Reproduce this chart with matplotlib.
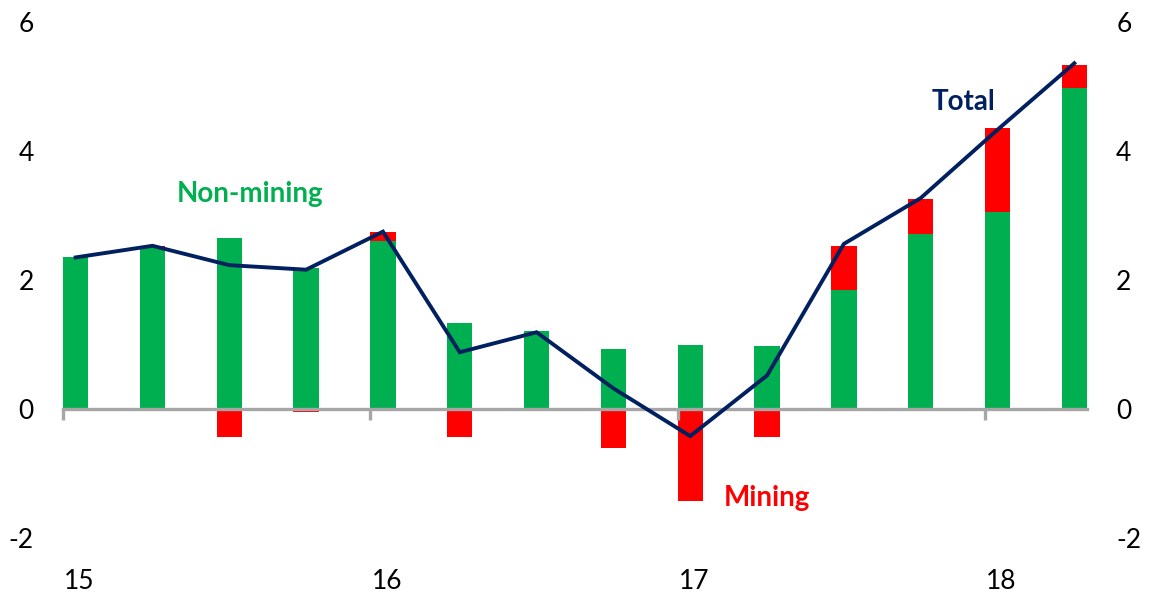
import matplotlib
matplotlib.use("Agg")
import matplotlib.pyplot as plt
import numpy as np

quarters = ["Mar-15", "Jun-15", "Sep-15", "Dec-15", "Mar-16", "Jun-16", "Sep-16",
            "Dec-16", "Mar-17", "Jun-17", "Sep-17", "Dec-17", "Mar-18", "Jun-18"]
non_mining = [2.35, 2.51, 2.65, 2.18, 2.61, 1.33, 1.21, 0.93, 0.99, 0.98, 1.85, 2.72, 3.05, 4.97]
mining = [0.01, 0.02, -0.43, -0.05, 0.14, -0.44, -0.03, -0.60, -1.43, -0.44, 0.67, 0.53, 1.30, 0.37]
total = [2.35, 2.53, 2.23, 2.16, 2.75, 0.88, 1.19, 0.32, -0.42, 0.52, 2.56, 3.27, 4.33, 5.36]
year_labels = ["15", "16", "17", "18"]
year_index = [0, 4, 8, 12]
y_ticks = [-2, 0, 2, 4, 6]

GREEN = "#00B050"
RED = "#FF0000"
NAVY = "#002060"
GRAY = "#A6A6A6"
FONT = "Lato"

fig = plt.figure(figsize=(11.49, 5.97), dpi=100)
ax = fig.add_axes([63/1149, 59/597, (1087-63)/1149, (538-22)/597])

x = np.arange(len(quarters))
w = 0.33
nm = np.array(non_mining)
mi = np.array(mining)
mining_bottom = np.where(mi > 0, nm, 0)

ax.bar(x, nm, width=w, color=GREEN, zorder=1)
ax.bar(x, mi, width=w, bottom=mining_bottom, color=RED, zorder=1)
ax.plot(x, total, color=NAVY, lw=2.8, zorder=4, solid_joinstyle="miter")

ax.set_xlim(-w/2, len(x) - 1 + w/2)
ax.set_ylim(-2, 6)
ax.set_yticks(y_ticks)
ax.set_yticklabels([str(v) for v in y_ticks])
ax.tick_params(axis="y", length=0, pad=21, labelsize=19, labelleft=True, labelright=True)
for lab in ax.get_yticklabels():
    lab.set_fontfamily(FONT)

ax.set_xticks([i + 0.05 for i in year_index])
ax.set_xticklabels(year_labels, fontsize=19, fontfamily=FONT)
ax.tick_params(axis="x", length=0, pad=22)
for s in ax.spines.values():
    s.set_visible(False)

# zero-line axis with tick marks
sec = ax.secondary_xaxis(0.25)
sec.set_zorder(2)
sec.spines["bottom"].set_color(GRAY)
sec.spines["bottom"].set_linewidth(2.4)
sec.set_xticks([i - w/2 for i in year_index])
sec.set_xticklabels([])
sec.tick_params(axis="x", direction="out", length=8, width=2.4, color=GRAY)

ax.text(2.27, 3.34, "Non-mining", color=GREEN, fontsize=20, fontweight="bold",
        fontfamily=FONT, ha="center", va="center")
ax.text(9.0, -1.38, "Mining", color=RED, fontsize=20, fontweight="bold",
        fontfamily=FONT, ha="center", va="center")
ax.text(11.56, 4.76, "Total", color=NAVY, fontsize=20, fontweight="bold",
        fontfamily=FONT, ha="center", va="center")

fig.savefig("out.png", dpi=100)
